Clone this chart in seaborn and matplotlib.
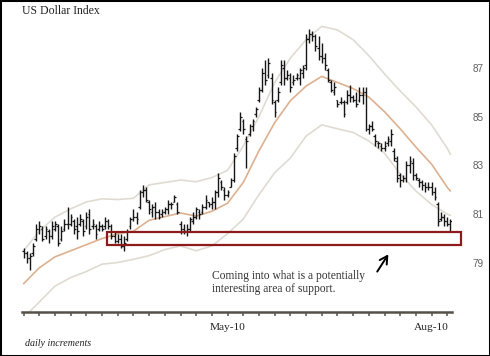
import matplotlib
matplotlib.use('Agg')
import numpy as np
import pandas as pd
import seaborn as sns
import matplotlib.pyplot as plt
from matplotlib.patches import Rectangle

# daily OHLC of the US Dollar Index, Feb 1 2010 .. Aug 10 2010
lows = [
    79.2, 79.0, 78.7, 79.3, 79.9, 80.2, 79.9, 80.0, 79.8, 80.0,
    80.3, 79.7, 79.9, 80.3, 80.4, 80.5, 80.2, 80.0, 80.5, 80.1,
    80.4, 80.2, 80.4, 80.0, 80.3, 80.3, 80.4, 80.4, 80.0, 79.8,
    79.8, 79.6, 79.5, 79.9, 80.4, 80.7, 80.6, 81.2, 81.7, 81.5,
    81.0, 80.9, 80.8, 80.8, 80.9, 81.0, 81.0, 81.2, 81.5, 81.0,
    80.2, 80.2, 80.1, 80.3, 80.6, 80.8, 80.8, 81.0, 81.2, 81.3,
    81.2, 81.2, 81.7, 82.0, 81.6, 81.7, 82.1, 82.3, 83.6, 84.4,
    84.3, 82.9, 84.2, 84.4, 85.0, 85.6, 86.0, 86.3, 86.6, 85.5,
    85.0, 85.6, 86.3, 86.3, 86.5, 86.0, 86.3, 86.5, 86.3, 86.6,
    86.9, 88.0, 88.1, 87.7, 87.3, 87.2, 86.9, 86.4, 86.0, 85.9,
    85.4, 85.5, 85.0, 85.5, 85.6, 85.6, 85.4, 85.6, 85.5, 84.4,
    84.3, 84.4, 83.8, 83.7, 83.6, 83.6, 83.8, 83.8, 83.2, 82.3,
    82.1, 82.3, 82.3, 82.7, 82.4, 82.4, 82.1, 82.0, 81.9, 82.0,
    81.8, 81.6, 80.5, 80.7, 80.5, 80.5, 80.3,
]
highs = [
    79.6, 79.5, 79.4, 79.8, 80.6, 80.7, 80.5, 80.5, 80.4, 80.7,
    80.7, 80.6, 80.5, 80.8, 81.3, 81.0, 80.8, 80.9, 81.0, 80.8,
    81.1, 81.2, 80.8, 80.6, 80.7, 80.6, 80.9, 80.8, 80.6, 80.3,
    80.2, 80.2, 80.1, 80.4, 80.9, 81.2, 81.1, 82.0, 82.2, 82.1,
    81.6, 81.4, 81.5, 81.2, 81.2, 81.3, 81.6, 81.5, 81.8, 81.5,
    80.7, 80.6, 80.6, 80.9, 81.1, 81.3, 81.2, 81.4, 81.8, 81.5,
    81.7, 82.0, 82.7, 82.4, 82.1, 82.0, 82.5, 83.5, 84.3, 85.2,
    84.9, 84.2, 84.7, 84.9, 85.4, 86.2, 87.0, 87.3, 87.4, 86.8,
    85.7, 86.2, 87.3, 87.3, 86.9, 86.8, 86.7, 86.8, 87.0, 87.1,
    88.4, 88.6, 88.5, 88.4, 88.3, 88.0, 87.6, 87.0, 86.5, 86.4,
    85.7, 85.8, 85.7, 86.1, 86.3, 85.9, 86.0, 86.2, 86.2, 86.2,
    84.7, 84.8, 84.3, 84.0, 83.9, 84.0, 84.2, 84.5, 83.7, 83.4,
    82.7, 82.6, 83.2, 83.4, 83.3, 82.7, 82.5, 82.4, 82.3, 82.3,
    82.3, 82.1, 81.5, 81.1, 81.0, 80.9, 80.8,
]
opens = [
    79.5, 79.4, 79.2, 79.4, 80.0, 80.4, 80.4, 80.1, 80.3, 80.1,
    80.4, 80.5, 80.0, 80.4, 80.6, 80.6, 80.7, 80.5, 80.6, 80.7,
    80.5, 81.0, 80.5, 80.5, 80.4, 80.5, 80.5, 80.7, 80.5, 80.1,
    79.9, 80.0, 79.7, 80.0, 80.5, 80.8, 80.9, 81.3, 81.9, 82.0,
    81.5, 81.1, 81.3, 81.1, 81.0, 81.1, 81.2, 81.4, 81.5, 81.4,
    80.6, 80.4, 80.3, 80.4, 80.7, 80.9, 81.1, 81.1, 81.3, 81.5,
    81.4, 81.5, 81.9, 82.3, 82.0, 81.8, 82.1, 82.4, 83.7, 84.5,
    84.8, 84.1, 84.3, 84.6, 85.1, 85.7, 86.1, 86.8, 86.7, 86.6,
    85.6, 85.7, 86.4, 87.0, 86.6, 86.6, 86.4, 86.6, 86.6, 86.8,
    87.1, 88.2, 88.4, 88.3, 87.8, 87.5, 87.4, 86.9, 86.4, 86.0,
    85.7, 85.6, 85.6, 85.6, 85.9, 85.8, 85.7, 85.7, 85.9, 86.0,
    84.5, 84.6, 84.2, 83.9, 83.8, 83.7, 83.9, 84.0, 83.6, 83.2,
    82.6, 82.4, 82.5, 83.0, 83.1, 82.6, 82.4, 82.3, 82.2, 82.1,
    82.1, 81.9, 81.4, 80.8, 80.9, 80.7, 80.6,
]
closes = [
    79.4, 79.2, 79.3, 79.7, 80.4, 80.5, 80.0, 80.4, 80.1, 80.5,
    80.6, 79.8, 80.3, 80.6, 80.6, 80.9, 80.4, 80.3, 80.8, 80.3,
    80.9, 80.4, 80.6, 80.2, 80.5, 80.4, 80.7, 80.5, 80.1, 79.9,
    80.0, 79.7, 79.8, 80.3, 80.8, 80.9, 80.8, 81.9, 82.0, 81.6,
    81.2, 81.3, 81.1, 80.9, 81.1, 81.2, 81.4, 81.4, 81.7, 81.1,
    80.4, 80.3, 80.4, 80.8, 80.9, 81.2, 81.0, 81.3, 81.6, 81.4,
    81.5, 81.9, 82.5, 82.1, 81.8, 81.9, 82.4, 83.4, 84.2, 85.0,
    84.5, 84.0, 84.6, 84.8, 85.3, 86.1, 86.8, 86.5, 87.2, 85.7,
    85.2, 86.0, 87.1, 86.6, 86.7, 86.2, 86.5, 86.7, 86.9, 87.0,
    88.2, 88.4, 88.3, 87.9, 87.5, 87.4, 87.1, 86.5, 86.1, 86.2,
    85.5, 85.6, 85.1, 85.9, 85.8, 85.7, 85.5, 85.9, 86.0, 84.5,
    84.6, 84.5, 84.0, 83.9, 83.7, 83.8, 84.1, 84.3, 83.3, 82.5,
    82.4, 82.5, 83.0, 83.2, 82.6, 82.5, 82.3, 82.2, 82.1, 82.1,
    81.9, 81.7, 80.7, 80.9, 80.7, 80.6, 80.7,
]

band_days = list(range(0, 136, 5)) + [136]
mid_line = [78.15, 78.8, 79.25, 79.5, 79.75, 80.0, 80.2, 80.3, 80.75, 80.9,
            81.05, 80.92, 81.12, 81.45, 82.3, 83.6, 84.75, 85.65, 86.25, 86.65,
            86.4, 86.15, 85.8, 85.2, 84.5, 83.75, 83.05, 82.1, 81.95]
upper_line = [79.5, 80.3, 80.88, 81.22, 81.5, 81.63, 81.6, 81.65, 82.2, 82.3,
              82.4, 82.33, 82.5, 82.8, 83.8, 85.0, 86.4, 87.4, 88.15, 88.7,
              88.55, 88.15, 87.5, 86.75, 86.05, 85.4, 84.66, 83.7, 83.45]
lower_line = [76.75, 77.4, 78.05, 78.4, 78.65, 78.95, 79.02, 79.15, 79.3, 79.55,
              79.7, 79.5, 79.7, 80.2, 80.8, 81.8, 82.7, 83.3, 84.2, 84.66,
              84.5, 84.35, 84.0, 83.5, 82.65, 81.95, 81.4, 81.0, 80.95]

y_ticks = [79, 81, 83, 85, 87]
month_labels = {65: 'May-10', 130: 'Aug-10'}

sns.set_theme(style='white')
plt.rcParams['font.family'] = ['Liberation Serif', 'DejaVu Serif']

fig = plt.figure(figsize=(4.9, 3.56), dpi=100)
ax = fig.add_axes([22 / 490, 44 / 356, 430 / 490, 302 / 356])

# envelope lines
bands = pd.DataFrame({
    'day': band_days * 3,
    'value': upper_line + mid_line + lower_line,
    'line': ['upper'] * len(band_days) + ['mid'] * len(band_days) + ['lower'] * len(band_days),
})
sns.lineplot(data=bands, x='day', y='value', hue='line',
             palette={'upper': '#e0dbd2', 'mid': '#ddb08f', 'lower': '#e0dbd2'},
             legend=False, linewidth=1.2, ax=ax, zorder=1)

# OHLC bars
days = np.arange(len(closes))
bar_col = '#161616'
ax.vlines(days, lows, highs, color=bar_col, lw=1.0, zorder=2)
ax.hlines(opens, days - 0.55, days, color=bar_col, lw=0.9, zorder=2)
ax.hlines(closes, days, days + 0.55, color=bar_col, lw=0.9, zorder=2)

# support box
ax.add_patch(Rectangle((26.6, 79.74), 112.7, 0.53, fill=False,
                       ec='#8e1b1b', lw=1.6, clip_on=False, zorder=3))
ax.annotate('', xy=(116.7, 79.45), xytext=(112.2, 78.55),
            arrowprops=dict(arrowstyle='->,head_length=0.45,head_width=0.25',
                            color='black', lw=1.4))

ax.set_xlim(-0.5, 136.5)
ax.set_ylim(76.99, 89.37)
ax.set_xlabel('')
ax.set_ylabel('')

ax.set_xticks(list(range(0, 136, 5)))
ax.set_xticklabels([month_labels.get(d, '') for d in range(0, 136, 5)],
                   fontsize=8.2, color='#222222')
ax.tick_params(axis='x', bottom=True, direction='out', length=3,
               width=1.1, color='#55514a', pad=5)

ax.set_yticks(y_ticks)
ax.yaxis.tick_right()
ax.tick_params(axis='y', left=False, right=False, length=0, pad=14.5,
               labelsize=7.2, labelcolor='#606060')
for lab in ax.get_yticklabels():
    lab.set_family(['Liberation Sans', 'DejaVu Sans'])

for side in ['left', 'top', 'right']:
    ax.spines[side].set_visible(False)
ax.spines['bottom'].set_color('#55514a')
ax.spines['bottom'].set_linewidth(1.8)
ax.grid(False)

fig.text(22 / 490, 1 - 14 / 356, 'US Dollar Index', fontsize=8.5,
         color='#222222', va='baseline')
fig.text(25 / 490, 1 - 346 / 356, 'daily increments', fontsize=7.2,
         style='italic', color='#222222', va='baseline')
fig.text(212 / 490, 1 - 279 / 356, 'Coming into what is a potentially',
         fontsize=8.3, color='#333333', va='baseline')
fig.text(212 / 490, 1 - 292 / 356, 'interesting area of support.',
         fontsize=8.3, color='#333333', va='baseline')

fig.patches.append(Rectangle((0, 0), 1, 1, transform=fig.transFigure,
                             fill=False, ec='black', lw=2.2))

fig.savefig('out.png', dpi=100)
